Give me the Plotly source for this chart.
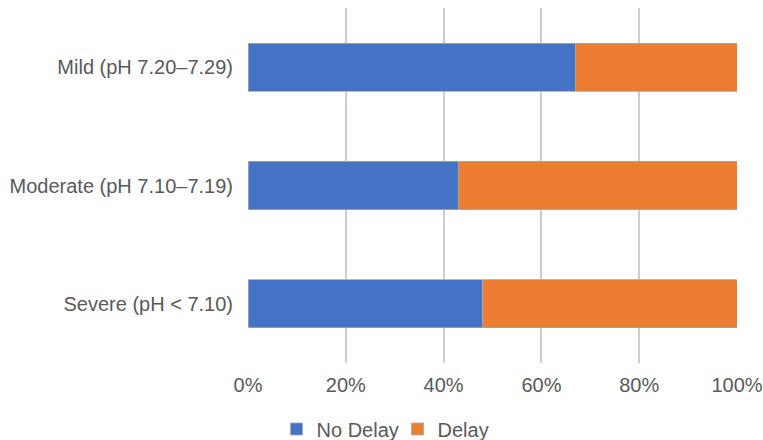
import plotly.graph_objects as go

categories = ["Mild (pH 7.20–7.29)", "Moderate (pH 7.10–7.19)", "Severe (pH < 7.10)"]
no_delay = [67, 43, 48]
delay = [33, 57, 52]
tick_vals = [0, 20, 40, 60, 80, 100]
tick_text = ["0%", "20%", "40%", "60%", "80%", "100%"]

FONT = "Liberation Sans, Arial, sans-serif"
TXT = "#595959"

fig = go.Figure()
fig.add_trace(go.Bar(y=categories, x=no_delay, name="No Delay", orientation="h",
                     marker=dict(color="#4472C4", line=dict(color="#A9A9A9", width=0.8))))
fig.add_trace(go.Bar(y=categories, x=delay, name="Delay", orientation="h",
                     marker=dict(color="#ED7D31", line=dict(color="#A9A9A9", width=0.8))))

fig.update_layout(
    barmode="stack",
    bargap=0.594,
    width=763, height=440,
    margin=dict(l=247.5, r=25.5, t=8, b=77, autoexpand=False),
    plot_bgcolor="white", paper_bgcolor="white",
    font=dict(family=FONT, size=20, color=TXT),
    showlegend=True,
    legend=dict(orientation="h", xref="container", yref="container",
                x=0.521, xanchor="center", y=0.025, yanchor="middle",
                font=dict(size=20, color=TXT), traceorder="normal",
                itemwidth=30, entrywidth=76),
)
fig.update_xaxes(range=[0, 100], tickvals=tick_vals, ticktext=tick_text,
                 showgrid=True, gridcolor="#CDCDCD", gridwidth=1.8,
                 zeroline=False, showline=False, ticks="", ticklabelstandoff=8,
                 automargin=False,
                 tickfont=dict(size=20, color=TXT), fixedrange=True)
fig.update_yaxes(autorange="reversed", showgrid=False, zeroline=False, showline=False,
                 automargin=False,
                 ticks="", ticklabelstandoff=14, tickfont=dict(size=20, color=TXT))

fig.write_html("out.html")
